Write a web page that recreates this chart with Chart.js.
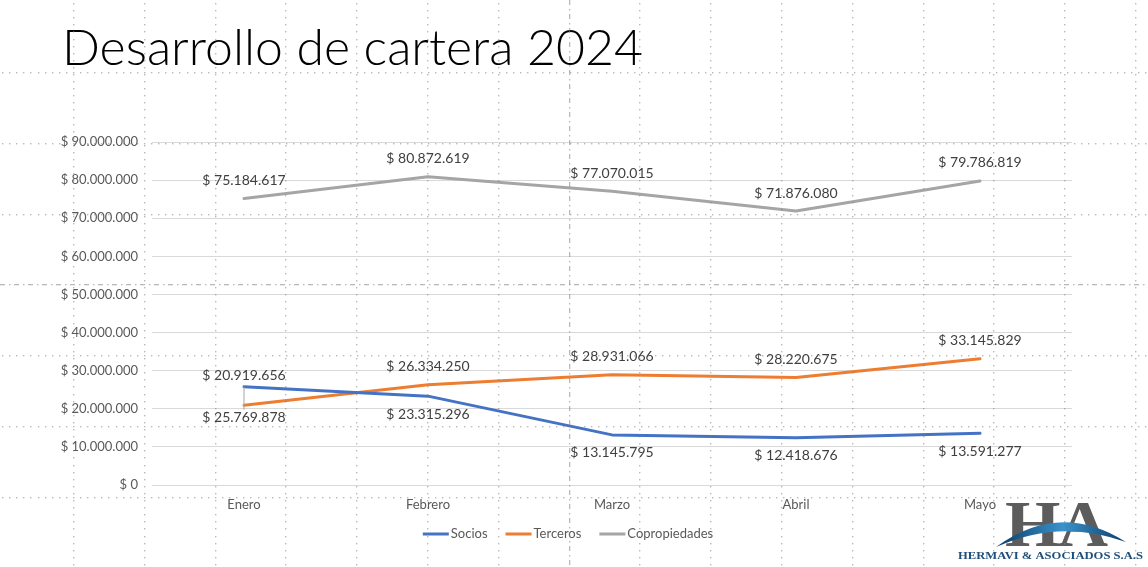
<!DOCTYPE html>
<html>
<head>
<meta charset="utf-8">
<script src="https://cdn.jsdelivr.net/npm/chart.js@4.4.1/dist/chart.umd.min.js"></script>
<style>
  html, body { margin: 0; padding: 0; background: #ffffff; }
  #wrap { width: 1148px; height: 567px; position: relative; }
</style>
</head>
<body>
<div id="wrap"><canvas id="c" width="1148" height="567"></canvas></div>
<script>
// ---- data ----
const titleText = 'Desarrollo de cartera 2024';
const categories = ['Enero', 'Febrero', 'Marzo', 'Abril', 'Mayo'];
const socios = [25769878, 23315296, 13145795, 12418676, 13591277];
const terceros = [20919656, 26334250, 28931066, 28220675, 33145829];
const copropiedades = [75184617, 80872619, 77070015, 71876080, 79786819];
const seriesNames = ['Socios', 'Terceros', 'Copropiedades'];
const yMin = 0, yMax = 90000000, yStep = 10000000;
const logoName = 'HERMAVI & ASOCIADOS S.A.S';

const FONT = 'Lato, "Open Sans", "Liberation Sans", sans-serif';
const fmt = v => '$ ' + Math.round(v).toString().replace(/\B(?=(\d{3})+(?!\d))/g, '.');

// ---- plugins ----
const titlePlugin = {
  id: 'slideTitle',
  beforeDraw(chart) {
    const ctx = chart.ctx;
    ctx.save();
    let size = 48;
    ctx.font = '300 ' + size + 'px ' + FONT;
    const w = ctx.measureText(titleText).width;
    size = size * 581 / w;
    ctx.font = '300 ' + size + 'px ' + FONT;
    ctx.fillStyle = '#000000';
    ctx.textBaseline = 'alphabetic';
    ctx.textAlign = 'left';
    ctx.fillText(titleText, 62, 65);
    ctx.restore();
  }
};

const labelPlugin = {
  id: 'valueLabels',
  afterDatasetsDraw(chart) {
    const ctx = chart.ctx;
    ctx.save();
    ctx.font = '14px ' + FONT;
    ctx.fillStyle = '#404040';
    ctx.textAlign = 'center';
    ctx.textBaseline = 'middle';
    chart.data.datasets.forEach((ds, di) => {
      const meta = chart.getDatasetMeta(di);
      meta.data.forEach((pt, i) => {
        let off = ds.labelPos === 'below' ? 18 : -18;
        if (i === 0 && ds.firstLabelOffset !== undefined) off = ds.firstLabelOffset;
        const ly = pt.y + off;
        if (i === 0 && ds.leader) {
          ctx.save();
          ctx.strokeStyle = '#a6a6a6';
          ctx.lineWidth = 1;
          ctx.beginPath();
          ctx.moveTo(pt.x, pt.y);
          ctx.lineTo(pt.x, ly - 8);
          ctx.stroke();
          ctx.restore();
        }
        ctx.fillText(fmt(ds.data[i]), pt.x, ly);
      });
    });
    ctx.restore();
  }
};

const legendPlugin = {
  id: 'customLegend',
  afterDraw(chart) {
    const ctx = chart.ctx;
    ctx.save();
    ctx.font = '13px ' + FONT;
    ctx.textBaseline = 'middle';
    ctx.textAlign = 'left';
    const box = 26, gapText = 2, gapItem = 18;
    const items = chart.data.datasets.map(ds => ({ label: ds.label, color: ds.borderColor, w: ctx.measureText(ds.label).width }));
    let total = items.reduce((a, it) => a + box + gapText + it.w, 0) + gapItem * (items.length - 1);
    let x = 568 - total / 2;
    const y = 534;
    items.forEach(it => {
      ctx.strokeStyle = it.color;
      ctx.lineWidth = 3;
      ctx.beginPath();
      ctx.moveTo(x, y);
      ctx.lineTo(x + box, y);
      ctx.stroke();
      ctx.fillStyle = '#595959';
      ctx.fillText(it.label, x + box + gapText, y);
      x += box + gapText + it.w + gapItem;
    });
    ctx.restore();
  }
};

const logoPlugin = {
  id: 'logo',
  afterDraw(chart) {
    const ctx = chart.ctx;
    ctx.save();
    // letters
    const g = ctx.createLinearGradient(0, 497, 0, 547);
    g.addColorStop(0, '#5c5c5c');
    g.addColorStop(0.25, '#8a8a8a');
    g.addColorStop(0.45, '#c4c4c4');
    g.addColorStop(0.6, '#3f86b8');
    g.addColorStop(1, '#0f4a78');
    ctx.fillStyle = g;
    ctx.font = 'bold 66px "Liberation Serif", "DejaVu Serif", serif';
    ctx.textBaseline = 'alphabetic';
    ctx.textAlign = 'left';
    ctx.save();
    ctx.translate(1005, 546);
    ctx.scale(1.08, 1.0);
    ctx.fillText('H', 0, 0);
    ctx.restore();
    ctx.save();
    ctx.translate(1058, 546);
    ctx.scale(1.05, 1.0);
    ctx.fillText('A', 0, 0);
    ctx.restore();
    // swoosh
    const sg = ctx.createLinearGradient(1000, 0, 1125, 0);
    sg.addColorStop(0, '#0d3f6b');
    sg.addColorStop(0.5, '#3a93cc');
    sg.addColorStop(1, '#0d3f6b');
    ctx.fillStyle = sg;
    ctx.beginPath();
    ctx.moveTo(996, 547);
    ctx.quadraticCurveTo(1060, 500, 1126, 542);
    ctx.quadraticCurveTo(1060, 518, 996, 547);
    ctx.closePath();
    ctx.fill();
    // name
    ctx.fillStyle = '#1f4e79';
    ctx.font = 'bold 11px "Liberation Serif", serif';
    const w = ctx.measureText(logoName).width;
    ctx.save();
    ctx.translate(958, 559);
    ctx.scale(185 / w, 1);
    ctx.fillText(logoName, 0, 0);
    ctx.restore();
    ctx.restore();
  }
};

const slideGridPlugin = {
  id: 'slideGrid',
  afterDraw(chart) {
    const ctx = chart.ctx;
    ctx.save();
    ctx.fillStyle = 'rgba(128,128,128,0.55)';
    const sp = 70.8, step = 7.1, d = 1.4;
    // horizontal dotted lines
    for (let k = 0; k < 7; k++) {
      const y = Math.round(72 + sp * k);
      if (k === 3) continue;
      for (let x = 2; x < 1148; x += step) ctx.fillRect(Math.round(x), y, d, d);
    }
    // vertical dotted lines
    for (let k = 0; k < 16; k++) {
      const x = Math.round(73 + sp * k);
      if (k === 7) continue;
      for (let y = 3; y < 567; y += step) ctx.fillRect(x, Math.round(y), d, d);
    }
    // centre guides (dash-dot)
    ctx.fillStyle = 'rgba(128,128,128,0.55)';
    const gy = Math.round(72 + sp * 3);
    for (let x = 0; x < 1148; x += 14) { ctx.fillRect(x, gy, 5, 1.3); ctx.fillRect(x + 9, gy, 1.5, 1.3); }
    const gx = Math.round(73 + sp * 7);
    for (let y = 0; y < 567; y += 14) { ctx.fillRect(gx, y, 1.3, 5); ctx.fillRect(gx, y + 9, 1.3, 1.5); }
    ctx.restore();
  }
};

// ---- chart ----
new Chart(document.getElementById('c'), {
  type: 'line',
  data: {
    labels: categories,
    datasets: [
      { label: seriesNames[0], data: socios, borderColor: '#4472C4', backgroundColor: '#4472C4', labelPos: 'below', firstLabelOffset: 31, leader: true },
      { label: seriesNames[1], data: terceros, borderColor: '#ED7D31', backgroundColor: '#ED7D31', labelPos: 'above', firstLabelOffset: -30 },
      { label: seriesNames[2], data: copropiedades, borderColor: '#A5A5A5', backgroundColor: '#A5A5A5', labelPos: 'above' }
    ]
  },
  options: {
    responsive: false,
    animation: false,
    devicePixelRatio: 1,
    layout: { padding: { top: 142, right: 76, bottom: 42, left: 0 } },
    elements: {
      line: { borderWidth: 3, tension: 0, borderCapStyle: 'round', borderJoinStyle: 'round' },
      point: { radius: 0, hoverRadius: 0 }
    },
    plugins: { legend: { display: false }, title: { display: false }, tooltip: { enabled: false } },
    scales: {
      x: {
        offset: true,
        grid: { display: false, drawTicks: false },
        border: { display: false },
        ticks: { color: '#595959', font: { family: FONT, size: 13 }, padding: 12, maxRotation: 0 },
        afterFit(s) { s.height = 40; }
      },
      y: {
        min: yMin, max: yMax,
        grid: { color: '#D9D9D9', lineWidth: 1, drawTicks: false },
        border: { display: false },
        ticks: { stepSize: yStep, color: '#595959', font: { family: FONT, size: 13 }, padding: 14, callback: v => fmt(v) },
        afterFit(s) { s.width = 152; }
      }
    }
  },
  plugins: [titlePlugin, labelPlugin, legendPlugin, logoPlugin, slideGridPlugin]
});
</script>
</body>
</html>
